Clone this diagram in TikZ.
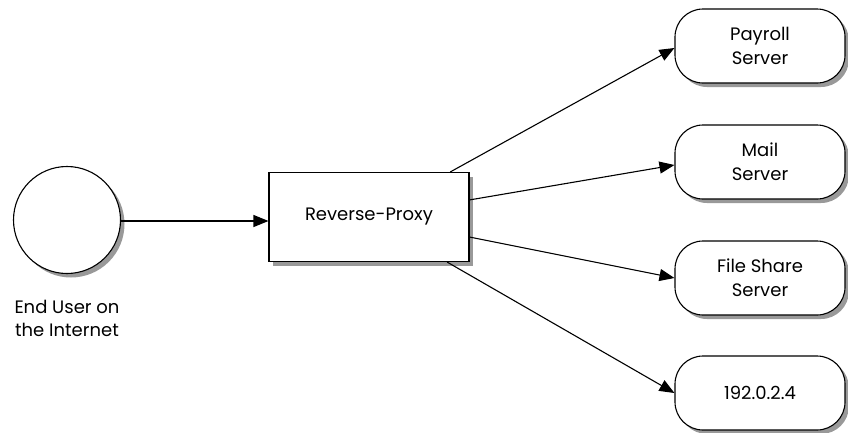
\documentclass[tikz,border=0pt]{standalone}
\usepackage{fontspec}
\setmainfont{Poppins}
\usetikzlibrary{arrows.meta}
\begin{document}
\begin{tikzpicture}[x=1pt,y=-1pt,
  shadowfill/.style={fill=black!40,draw=none},
  user/.style={circle,draw,line width=1.1pt,fill=white,minimum size=107pt,inner sep=0pt},
  proxybox/.style={rectangle,draw,line width=1.1pt,fill=white,minimum width=200pt,minimum height=89pt,font=\fontsize{18}{22}\selectfont},
  server/.style={rectangle,rounded corners=28pt,draw,line width=1.1pt,fill=white,minimum width=170pt,minimum height=74pt,align=center,font=\fontsize{18}{24}\selectfont},
  link/.style={line width=1.1pt,-{Triangle[length=15pt,width=12pt]}},
  caption/.style={align=center,font=\fontsize{18}{23}\selectfont}]
\useasboundingbox (0,0) rectangle (848,432);
% grey drop shadows, drawn first so the shapes sit on top
\path[shadowfill] (71,224) circle (53.5);
\path[shadowfill] (273,176.5) rectangle (473,265.5);
\foreach \cy in {46,162,278,393}
  \path[shadowfill,rounded corners=28pt] (679,\cy-33) rectangle (849,\cy+41);
% shapes
\node[user] (enduser) at (67,220) {};
\node[caption] (userlabel) at (67,318) {End User on\\the Internet};
\node[proxybox] (proxy) at (369,217) {Reverse-Proxy};
\node[server] (payroll) at (760,46) {Payroll\\Server};
\node[server] (mail) at (760,162) {Mail\\Server};
\node[server] (files) at (760,278) {File Share\\Server};
\node[server] (ip) at (760,393) {192.0.2.4};
% connectors
\draw[link] (enduser.east |- 0,221) -- (proxy.west |- 0,221);
\draw[link] (proxy) -- (payroll.west |- 0,48);
\draw[link] (proxy) -- (mail.west |- 0,165);
\draw[link] (proxy) -- (files.west |- 0,278);
\draw[link] (proxy) -- (ip.west |- 0,393);
\end{tikzpicture}
\end{document}
